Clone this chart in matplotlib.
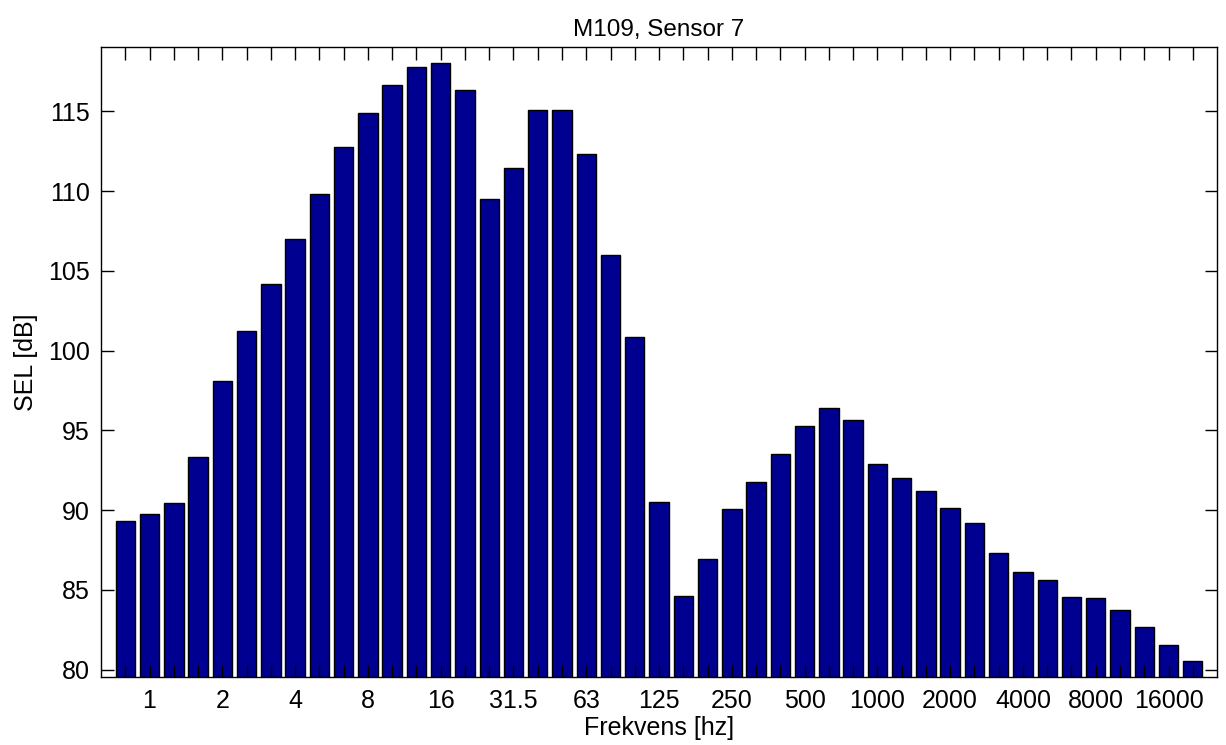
#!/usr/bin/env python3
import numpy as np
import matplotlib
matplotlib.use("Agg")
import matplotlib.pyplot as plt

# third-octave band centres (Hz) and measured SEL (dB)
bands = ['0.8', '1', '1.25', '1.6', '2', '2.5', '3.15', '4', '5', '6.3',
         '8', '10', '12.5', '16', '20', '25', '31.5', '40', '50', '63',
         '80', '100', '125', '160', '200', '250', '315', '400', '500', '630',
         '800', '1000', '1250', '1600', '2000', '2500', '3150', '4000', '5000', '6300',
         '8000', '10000', '12500', '16000', '20000']
sel = [89.32, 89.75, 90.42, 93.33, 98.12, 101.23, 104.19, 106.97, 109.82, 112.73,
       114.92, 116.64, 117.80, 118.03, 116.34, 109.49, 111.47, 115.07, 115.05, 112.35,
       105.96, 100.84, 90.52, 84.61, 86.95, 90.09, 91.79, 93.51, 95.29, 96.39,
       95.62, 92.92, 91.99, 91.17, 90.14, 89.21, 87.31, 86.12, 85.64, 84.55,
       84.48, 83.73, 82.65, 81.57, 80.54]
# only the octave bands get a label
octave_labels = ['1', '2', '4', '8', '16', '31.5', '63', '125', '250', '500',
                 '1000', '2000', '4000', '8000', '16000']

plt.rcParams['font.family'] = ['Liberation Sans', 'DejaVu Sans']

fig = plt.figure(figsize=(12.26, 7.45), dpi=100)
ax = fig.add_axes([0.0824, 0.0913, 0.9103, 0.8457])

x = np.arange(1, len(sel) + 1)
base = min(sel) - 1
ax.bar(x, np.array(sel) - base, bottom=base, width=0.8,
       color='#000090', edgecolor='black', linewidth=1.0)

ax.set_xlim(0, len(sel) + 1)
ax.set_ylim(min(sel) - 1, max(sel) + 1)
ax.set_yticks(np.arange(80, 116, 5))

labels = [b if b in octave_labels else '' for b in bands]
ax.set_xticks(x)
ax.set_xticklabels(labels)

ax.tick_params(direction='in', length=9, width=1, labelsize=18,
               top=True, right=True)
ax.tick_params(axis='y', pad=8)
ax.tick_params(axis='x', pad=9)
for s in ax.spines.values():
    s.set_linewidth(1.0)

ax.set_title('M109, Sensor 7', fontsize=17.5, pad=8)
ax.set_xlabel('Frekvens [hz]', fontsize=18, labelpad=2)
ax.set_ylabel('SEL [dB]', fontsize=18, labelpad=7)

fig.savefig('out.png', dpi=100)
